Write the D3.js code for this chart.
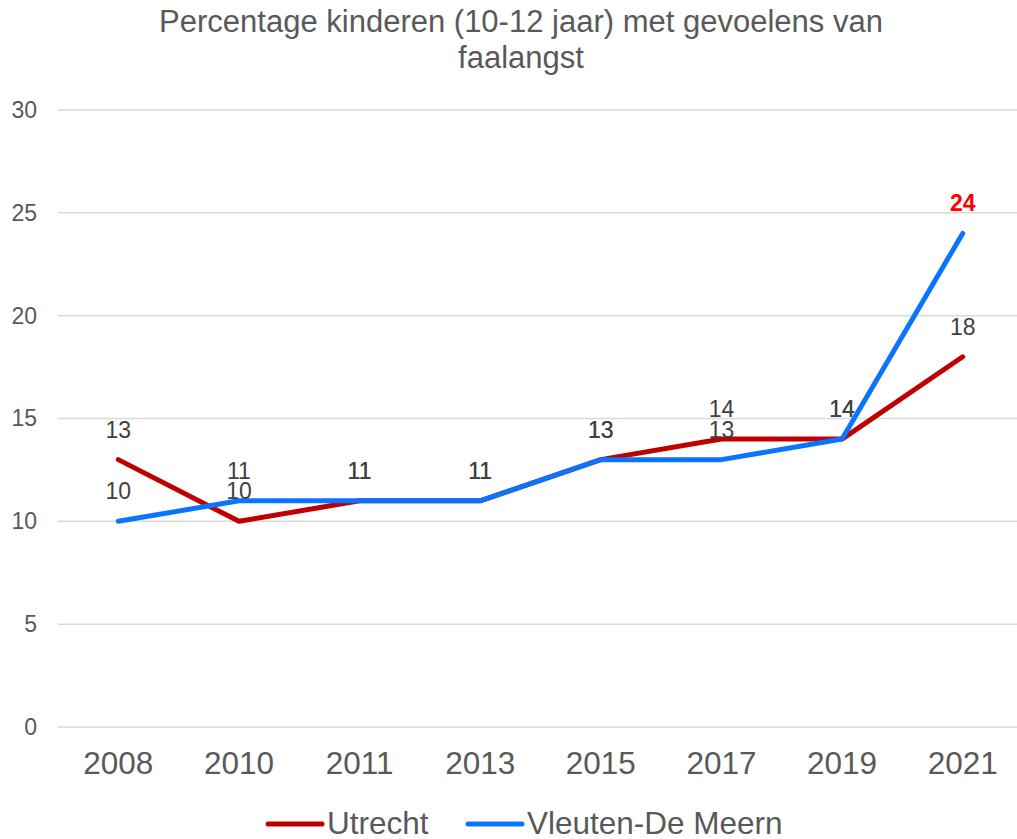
<!DOCTYPE html>
<html>
<head>
<meta charset="utf-8">
<script src="https://cdn.jsdelivr.net/npm/d3@7"></script>
<style>
  body { margin: 0; background: #fff; }
  svg { display: block; font-family: "Liberation Sans", Arial, sans-serif; }
</style>
</head>
<body>
<div id="chart"></div>
<script>
// gegevens
const years = ['2008', '2010', '2011', '2013', '2015', '2017', '2019', '2021'];
const utrecht = [13, 10, 11, 11, 13, 14, 14, 18];
const vleuten = [10, 11, 11, 11, 13, 13, 14, 24];
const yTicks = [0, 5, 10, 15, 20, 25, 30];

const series = [
    { name: 'Utrecht', values: utrecht, color: '#C00000' },
    { name: 'Vleuten-De Meern', values: vleuten, color: '#0A74FF' }
];

const width = 1017, height = 839;
const margin = { left: 58, right: -6, top: 110, bottom: 112 };
const font = '"Liberation Sans", Arial, sans-serif';

const svg = d3.select('#chart').append('svg')
    .attr('width', width)
    .attr('height', height);

// titel
svg.append('text')
    .attr('x', 521).attr('y', 32)
    .attr('text-anchor', 'middle')
    .attr('font-size', 31)
    .attr('fill', '#595959')
    .text('Percentage kinderen (10-12 jaar) met gevoelens van');
svg.append('text')
    .attr('x', 521).attr('y', 68)
    .attr('text-anchor', 'middle')
    .attr('font-size', 31)
    .attr('fill', '#595959')
    .text('faalangst');

const x = d3.scaleBand()
    .domain(years)
    .range([margin.left, width - margin.right]);

const y = d3.scaleLinear()
    .domain([0, 30])
    .range([height - margin.bottom, margin.top]);

// rasterlijnen
svg.append('g')
    .selectAll('line')
    .data(yTicks)
    .enter().append('line')
    .attr('x1', margin.left)
    .attr('x2', width)
    .attr('y1', d => y(d))
    .attr('y2', d => y(d))
    .attr('stroke', '#d9d9d9')
    .attr('stroke-width', 1.5);

// y-as
const yAxis = svg.append('g')
    .attr('transform', `translate(${margin.left - 21},0)`)
    .call(d3.axisLeft(y).tickValues(yTicks).tickSize(0).tickPadding(0));
yAxis.select('.domain').remove();
yAxis.selectAll('text')
    .attr('font-size', 23)
    .attr('font-family', font)
    .attr('fill', '#595959');

// x-as
const xAxis = svg.append('g')
    .attr('transform', `translate(0,${y(0)})`)
    .call(d3.axisBottom(x).tickSize(0).tickPadding(25));
xAxis.select('.domain').remove();
xAxis.selectAll('text')
    .attr('font-size', 31.5)
    .attr('font-family', font)
    .attr('fill', '#595959');

const cx = d => x(d) + x.bandwidth() / 2;

const line = d3.line()
    .x((d, i) => cx(years[i]))
    .y(d => y(d));

series.forEach(s => {
    svg.append('path')
        .datum(s.values)
        .attr('d', line)
        .attr('fill', 'none')
        .attr('stroke', s.color)
        .attr('stroke-width', 5)
        .attr('stroke-linecap', 'round')
        .attr('stroke-linejoin', 'round');
});

// datalabels
series.forEach(s => {
    svg.append('g')
        .selectAll('text')
        .data(s.values)
        .enter().append('text')
        .attr('x', (d, i) => cx(years[i]))
        .attr('y', d => y(d) - 22)
        .attr('text-anchor', 'middle')
        .attr('font-size', 23)
        .attr('fill', d => d === 24 ? '#FF0000' : '#404040')
        .attr('font-weight', d => d === 24 ? 'bold' : 'normal')
        .text(d => d);
});

// legenda
const legend = [
    { name: 'Utrecht', color: '#C00000', x: 268 },
    { name: 'Vleuten-De Meern', color: '#0A74FF', x: 468 }
];
legend.forEach(l => {
    svg.append('line')
        .attr('x1', l.x).attr('x2', l.x + 54)
        .attr('y1', 824).attr('y2', 824)
        .attr('stroke', l.color)
        .attr('stroke-width', 5)
        .attr('stroke-linecap', 'round');
    svg.append('text')
        .attr('x', l.x + 59).attr('y', 834)
        .attr('font-size', 31.5)
        .attr('fill', '#595959')
        .text(l.name);
});
</script>
</body>
</html>
